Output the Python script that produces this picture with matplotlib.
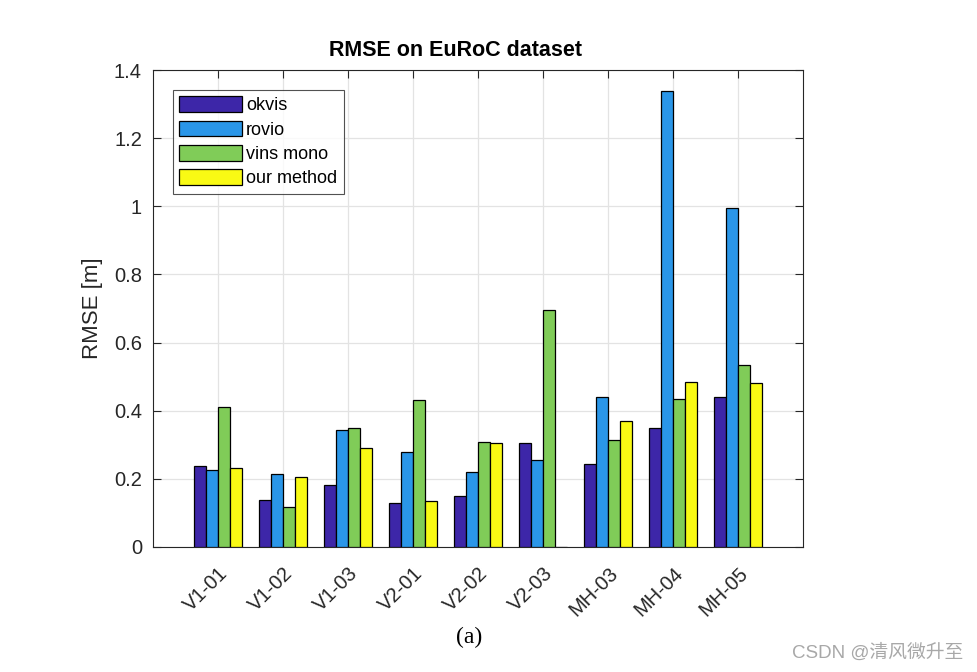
import matplotlib
matplotlib.use("Agg")
import matplotlib.pyplot as plt
import numpy as np

plt.rcParams['font.family'] = ['Liberation Sans', 'Noto Sans CJK SC', 'DejaVu Sans']

categories = ['V1-01', 'V1-02', 'V1-03', 'V2-01', 'V2-02', 'V2-03', 'MH-03', 'MH-04', 'MH-05']
okvis = [0.238, 0.137, 0.183, 0.128, 0.151, 0.305, 0.244, 0.349, 0.439]
rovio = [0.226, 0.215, 0.344, 0.278, 0.219, 0.254, 0.439, 1.338, 0.996]
vins_mono = [0.410, 0.117, 0.348, 0.430, 0.307, 0.696, 0.313, 0.435, 0.534]
our_method = [0.231, 0.206, 0.290, 0.135, 0.305, 0.0, 0.370, 0.484, 0.482]
series_names = ['okvis', 'rovio', 'vins mono', 'our method']
colors = ['#3D26A8', '#2A96E8', '#80CC58', '#F9FA14']

fig = plt.figure(figsize=(9.78, 6.72), dpi=100)
ax = fig.add_axes([153/978, 125/672, 650/978, 477/672])

x = np.arange(1, len(categories) + 1)
w = 0.185
data = [okvis, rovio, vins_mono, our_method]
for i, (vals, name, c) in enumerate(zip(data, series_names, colors)):
    ax.bar(x + (i - 1.5) * w, vals, width=w, color=c, edgecolor='black',
           linewidth=0.9, label=name, zorder=3)

ax.set_xlim(0, 10)
ax.set_ylim(0, 1.4)
ax.set_xticks(x)
ax.set_xticklabels(categories, rotation=45, ha='right', rotation_mode='anchor')
ax.set_yticks([0, 0.2, 0.4, 0.6, 0.8, 1.0, 1.2, 1.4])
ax.set_yticklabels(['0', '0.2', '0.4', '0.6', '0.8', '1', '1.2', '1.4'])
ax.tick_params(direction='in', top=True, right=True, length=6, width=0.8,
               colors='#262626', labelsize=14.5)
ax.tick_params(axis='y', pad=8)
ax.tick_params(axis='x', pad=12)
for s in ax.spines.values():
    s.set_color('#262626')
    s.set_linewidth(0.8)
ax.grid(True, color='#e3e3e3', linewidth=0.9, zorder=0)
ax.set_axisbelow(True)

ax.set_ylabel('RMSE [m]', fontsize=16, color='#262626', labelpad=8)
fig.text(456/978, 1 - 51/672, 'RMSE on EuRoC dataset', fontsize=15.5,
         fontweight='bold', ha='center', va='center')

leg = ax.legend(loc='upper left', bbox_to_anchor=(20/650, 457/477), fontsize=13,
                frameon=True, fancybox=False, edgecolor='#262626',
                handlelength=3.45, handleheight=0.95, handletextpad=0.25,
                labelspacing=0.35, borderpad=0.35, borderaxespad=0.0)
leg.get_frame().set_linewidth(0.8)

fig.text(469/978, 1 - 637/672, '(a)', fontsize=17, family='Liberation Serif',
         ha='center', va='center')
fig.text(1 - 15/978, 1 - 653/672, 'CSDN @清风微升至', fontsize=13.5, color='#a8a8a8',
         ha='right', va='center')

fig.savefig('out.png', dpi=100)
